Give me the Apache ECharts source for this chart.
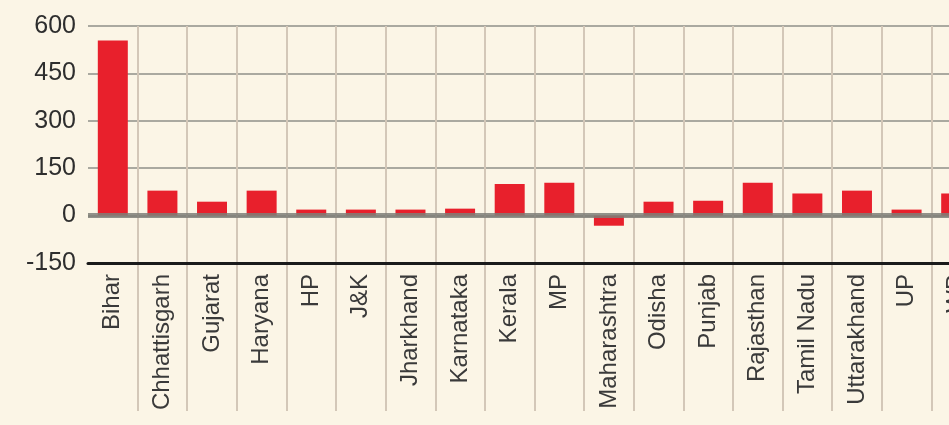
<!DOCTYPE html>
<html>
<head>
<meta charset="utf-8">
<script src="https://cdn.jsdelivr.net/npm/echarts@6/dist/echarts.min.js"></script>
<style>
  html, body { margin: 0; padding: 0; background: #fbf5e6; overflow: hidden; }
  /* the chart runs past the right edge of the window, as in the source clipping */
  #chart { width: 990px; height: 425px; }
</style>
</head>
<body>
<div id="chart"></div>
<script>
const states = ['Bihar', 'Chhattisgarh', 'Gujarat', 'Haryana', 'HP', 'J&K', 'Jharkhand', 'Karnataka',
    'Kerala', 'MP', 'Maharashtra', 'Odisha', 'Punjab', 'Rajasthan', 'Tamil Nadu', 'Uttarakhand', 'UP', 'WB']
const values = [554, 79, 44, 79, 19, 19, 19, 22, 100, 104, -32, 44, 47, 104, 70, 79, 19, 70]
const yTicks = [-150, 0, 150, 300, 450, 600]

const myChart = echarts.init(document.getElementById('chart'))

const vLine = { color: '#d3c7b8', width: 2 }
// no separator on the left edge of the plot
const skipFirst = (index) => index > 0

const option = {
    backgroundColor: '#fbf5e6',
    animation: false,
    grid: [
        { left: 88, width: 893, top: 26, height: 237 },
        // strip below the plot where the category separators keep running down
        { left: 88, width: 893, top: 263, height: 148 }
    ],
    xAxis: [
        {
            type: 'category',
            gridIndex: 0,
            data: states,
            axisLine: { onZero: false, lineStyle: { color: '#1a1a1a', width: 3 } },
            axisTick: { show: false },
            splitLine: { show: true, interval: skipFirst, lineStyle: vLine },
            axisLabel: {
                rotate: 90,
                interval: 0,
                margin: 11,
                fontSize: 24,
                fontFamily: 'Liberation Sans',
                color: '#3a3a3a'
            },
            z: 5
        },
        {
            type: 'category',
            gridIndex: 1,
            data: states,
            axisLine: { show: false },
            axisTick: { show: false },
            axisLabel: { show: false },
            splitLine: { show: true, interval: skipFirst, lineStyle: vLine }
        }
    ],
    yAxis: [
        {
            type: 'value',
            gridIndex: 0,
            min: yTicks[0],
            max: yTicks[yTicks.length - 1],
            interval: 150,
            axisLine: { show: false },
            axisTick: { show: false },
            splitLine: { lineStyle: { color: '#aaa9a0', width: 2 } },
            axisLabel: {
                margin: 12,
                fontSize: 25,
                fontFamily: 'Liberation Sans',
                color: '#2e2e2e'
            }
        },
        {
            type: 'value',
            gridIndex: 1,
            show: false,
            splitLine: { show: false }
        }
    ],
    series: [
        {
            type: 'bar',
            xAxisIndex: 0,
            yAxisIndex: 0,
            data: values,
            barWidth: 30,
            itemStyle: { color: '#e8202c' },
            markLine: {
                silent: true,
                symbol: 'none',
                label: { show: false },
                lineStyle: { color: '#7f7f78', width: 5, type: 'solid', opacity: 0.85 },
                data: [{ yAxis: 0 }]
            }
        }
    ]
}
myChart.setOption(option)
</script>
</body>
</html>
